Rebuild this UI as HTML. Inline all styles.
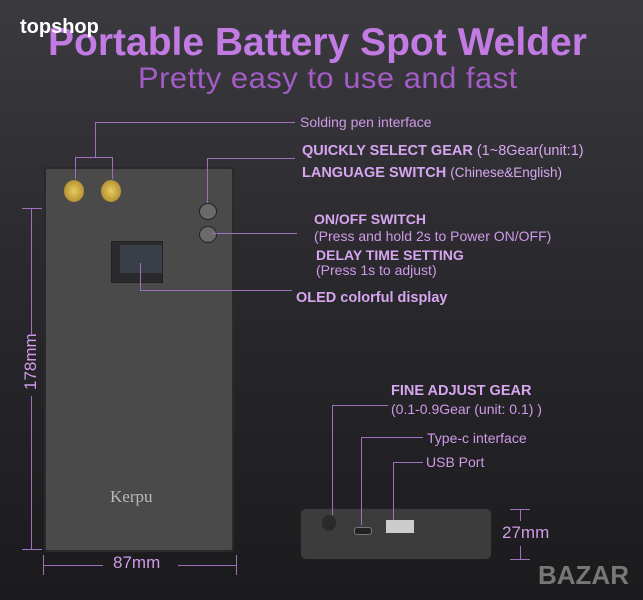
<!DOCTYPE html>
<html><head><meta charset="utf-8"><style>
body{margin:0;width:643px;height:600px;overflow:hidden;background:linear-gradient(#3b3a3f 0%,#2a292d 45%,#1b1a1d 100%);font-family:"Liberation Sans",sans-serif;position:relative}
.t{position:absolute;white-space:nowrap;color:#cf9ae8}
.b{font-weight:bold;color:#d7a6f0}
.l{position:absolute;background:#a070c0}
</style></head><body>
<div class="t" style="left:48px;top:21px;font-size:39px;font-weight:bold;color:#c27be3;transform:scaleX(1.0);transform-origin:left">Portable Battery Spot Welder</div>
<div class="t" style="left:138px;top:62px;font-size:30px;color:#a45cc7;letter-spacing:0.5px;transform:scaleX(1.03);transform-origin:left">Pretty easy to use and fast</div>
<div class="t" style="left:20px;top:16px;font-size:20px;font-weight:bold;color:#fff">topshop</div>

<!-- device front -->
<div style="position:absolute;left:44px;top:167px;width:190px;height:385px;background:#4a4a4b;border:2px solid #2a2a2a;border-radius:3px;box-sizing:border-box"></div>
<div style="position:absolute;left:64px;top:180px;width:20px;height:22px;border-radius:50%;background:radial-gradient(#e8cc60,#a07a20);"></div>
<div style="position:absolute;left:101px;top:180px;width:20px;height:22px;border-radius:50%;background:radial-gradient(#e8cc60,#a07a20);"></div>
<div style="position:absolute;left:199px;top:203px;width:16px;height:15px;border-radius:50%;background:#6a6a6a;border:1px solid #222"></div>
<div style="position:absolute;left:199px;top:226px;width:16px;height:15px;border-radius:50%;background:#6a6a6a;border:1px solid #222"></div>
<div style="position:absolute;left:111px;top:241px;width:50px;height:40px;background:#2a2a2c;border:1px solid #222"></div>
<div style="position:absolute;left:120px;top:245px;width:42px;height:28px;background:#3a3e48"></div>
<div class="t" style="left:110px;top:487px;font-family:'Liberation Serif',serif;font-size:17px;color:#b8b8b8">Kerpu</div>

<!-- dimensions -->
<div class="l" style="left:31px;top:208px;width:1px;height:126px"></div>
<div class="l" style="left:31px;top:396px;width:1px;height:154px"></div>
<div class="l" style="left:22px;top:208px;width:20px;height:1px"></div>
<div class="l" style="left:22px;top:549px;width:20px;height:1px"></div>
<div class="t" style="left:6px;top:355px;font-size:17px;transform:rotate(-90deg);transform-origin:center;width:50px;text-align:center">178mm</div>
<div class="l" style="left:43px;top:565px;width:60px;height:1px"></div>
<div class="l" style="left:178px;top:565px;width:58px;height:1px"></div>
<div class="l" style="left:43px;top:555px;width:1px;height:20px"></div>
<div class="l" style="left:236px;top:555px;width:1px;height:20px"></div>
<div class="t" style="left:113px;top:553px;font-size:17px">87mm</div>

<!-- top labels -->
<div class="l" style="left:95px;top:122px;width:200px;height:1px"></div>
<div class="l" style="left:95px;top:122px;width:1px;height:36px"></div>
<div class="l" style="left:75px;top:157px;width:38px;height:1px"></div>
<div class="l" style="left:75px;top:157px;width:1px;height:22px"></div>
<div class="l" style="left:112px;top:157px;width:1px;height:22px"></div>
<div class="t" style="left:300px;top:114px;font-size:14px">Solding pen interface</div>

<div class="l" style="left:207px;top:158px;width:88px;height:1px"></div>
<div class="l" style="left:207px;top:158px;width:1px;height:45px"></div>
<div class="t b" style="left:302px;top:143px;font-size:14.5px">QUICKLY SELECT GEAR <span style="font-weight:normal">(1~8Gear(unit:1)</span></div>
<div class="t b" style="left:302px;top:165px;font-size:14.5px">LANGUAGE SWITCH <span style="font-weight:normal;font-size:13.5px">(Chinese&amp;English)</span></div>

<div class="l" style="left:212px;top:233px;width:85px;height:1px"></div>
<div class="t b" style="left:314px;top:211px;font-size:14px">ON/OFF SWITCH</div>
<div class="t" style="left:314px;top:228px;font-size:14px">(Press and hold 2s to Power ON/OFF)</div>
<div class="t b" style="left:316px;top:247px;font-size:14px">DELAY TIME SETTING</div>
<div class="t" style="left:316px;top:262px;font-size:14px">(Press 1s to adjust)</div>

<div class="l" style="left:140px;top:263px;width:1px;height:27px"></div>
<div class="l" style="left:140px;top:290px;width:152px;height:1px"></div>
<div class="t b" style="left:296px;top:290px;font-size:14.5px">OLED colorful display</div>

<!-- bottom device -->
<div style="position:absolute;left:300px;top:508px;width:192px;height:52px;background:#3c3c3d;border-radius:6px;border:1px solid #222;box-sizing:border-box"></div>
<div style="position:absolute;left:322px;top:515px;width:14px;height:16px;border-radius:50%;background:#2a2a2a"></div>
<div style="position:absolute;left:354px;top:527px;width:16px;height:6px;border-radius:3px;background:#222;border:1px solid #777"></div>
<div style="position:absolute;left:386px;top:520px;width:28px;height:13px;background:#ccc"></div>
<div class="l" style="left:332px;top:405px;width:1px;height:110px"></div>
<div class="l" style="left:332px;top:405px;width:56px;height:1px"></div>
<div class="t b" style="left:391px;top:383px;font-size:14.5px">FINE ADJUST GEAR</div>
<div class="t" style="left:391px;top:401px;font-size:14px">(0.1-0.9Gear (unit: 0.1) )</div>
<div class="l" style="left:361px;top:437px;width:1px;height:88px"></div>
<div class="l" style="left:361px;top:437px;width:62px;height:1px"></div>
<div class="t" style="left:427px;top:430px;font-size:14px">Type-c interface</div>
<div class="l" style="left:393px;top:462px;width:1px;height:58px"></div>
<div class="l" style="left:393px;top:462px;width:30px;height:1px"></div>
<div class="t" style="left:426px;top:454px;font-size:14px">USB Port</div>

<div class="l" style="left:520px;top:509px;width:1px;height:12px"></div>
<div class="l" style="left:520px;top:546px;width:1px;height:13px"></div>
<div class="l" style="left:510px;top:509px;width:20px;height:1px"></div>
<div class="l" style="left:510px;top:559px;width:20px;height:1px"></div>
<div class="t" style="left:502px;top:523px;font-size:17px">27mm</div>
<div class="t" style="left:538px;top:560px;font-size:26px;font-weight:bold;color:#777">BAZAR</div>
</body></html>
